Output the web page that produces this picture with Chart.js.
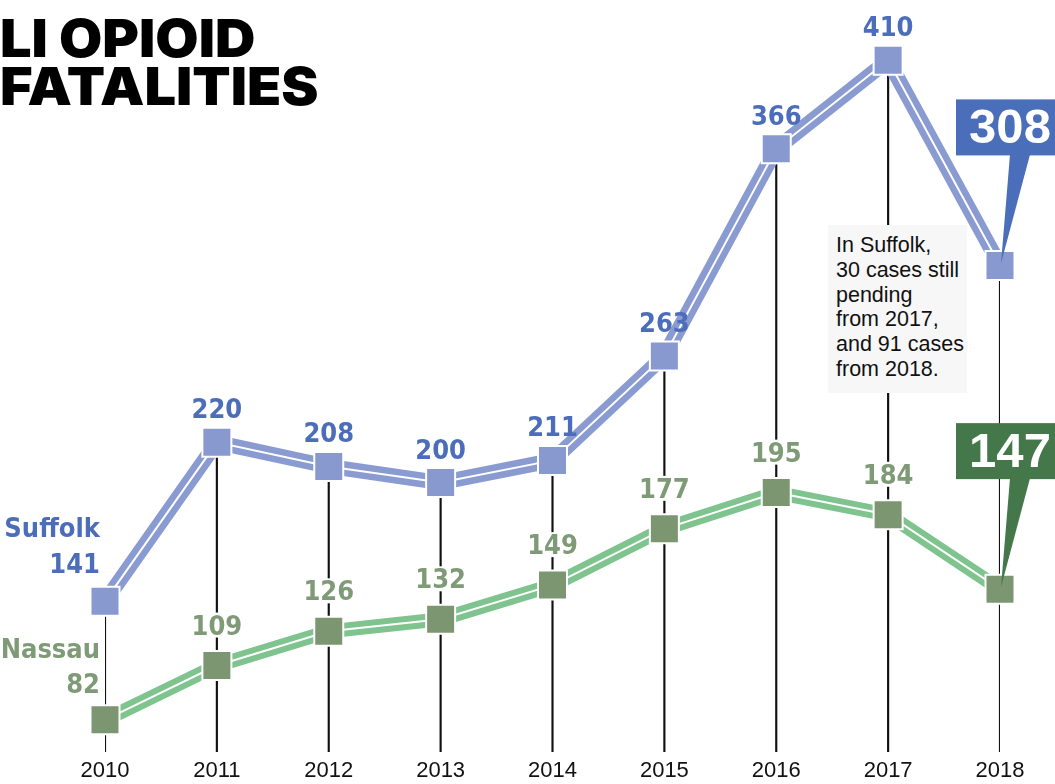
<!DOCTYPE html>
<html>
<head>
<meta charset="utf-8">
<script src="https://cdn.jsdelivr.net/npm/chart.js@4.4.1/dist/chart.umd.min.js"></script>
<style>
  html, body { margin: 0; padding: 0; background: #fff; }
  #wrap { position: relative; width: 1055px; height: 784px; overflow: hidden; }
  #chart { position: absolute; left: 0; top: 0; }
  .title {
    position: absolute; left: 0; top: 15px; margin: 0;
    font-family: Inter, 'Liberation Sans', sans-serif; font-weight: 900;
    font-size: 52px; line-height: 48px; letter-spacing: 0; color: #000;
    transform: scaleX(1.075); transform-origin: 0 0;
  }
  .note {
    position: absolute; left: 828px; top: 225px; width: 131px; height: 160px;
    padding: 8px 0 0 8px; background: #f7f7f7;
    font-family: 'Liberation Sans', sans-serif; font-size: 21.5px; line-height: 24.8px; color: #111;
  }
</style>
</head>
<body>
<div id="wrap">
  <canvas id="chart" width="1055" height="784"></canvas>
  <h1 class="title">LI OPIOID<br>FATALITIES</h1>
  <div class="note">In Suffolk,<br>30 cases still<br>pending<br>from 2017,<br>and 91 cases<br>from 2018.</div>
</div>
<script>
const years = ['2010', '2011', '2012', '2013', '2014', '2015', '2016', '2017', '2018'];
const suffolk = [141, 220, 208, 200, 211, 263, 366, 410, 308];
const nassau = [82, 109, 126, 132, 149, 177, 195, 184, 147];

const blueLine = '#8a9bd2';
const blueMark = '#8899cf';
const blueText = '#4c6db9';
const blueBox = '#4a6eb9';
const greenLine = '#7fc48e';
const greenMark = '#7d9672';
const greenText = '#7e9a76';
const greenBox = '#44784a';

const boldFont = "bold 27px 'DejaVu Sans Condensed', 'DejaVu Sans', sans-serif";

function drawCallout(ctx, px, py, text, color) {
    ctx.fillStyle = color;
    ctx.fillRect(px - 44, py - 166, 112, 56);
    ctx.beginPath();
    ctx.moveTo(px + 10, py - 111);
    ctx.lineTo(px + 30, py - 111);
    ctx.lineTo(px + 1, py - 2);
    ctx.closePath();
    ctx.fill();
    ctx.fillStyle = '#fff';
    ctx.font = "bold 49px 'Liberation Sans', sans-serif";
    ctx.textAlign = 'center';
    ctx.textBaseline = 'alphabetic';
    ctx.fillText(text, px + 10, py - 122);
}

const labelPlugin = {
    id: 'valueLabels',
    afterDatasetsDraw(chart) {
        const ctx = chart.ctx;
        const xs = chart.scales.x;
        const ys = chart.scales.y;
        const last = years.length - 1;
        ctx.save();
        ctx.font = boldFont;
        ctx.textBaseline = 'alphabetic';

        for (let i = 1; i < last; i++) {
            const px = xs.getPixelForValue(i);
            // suffolk
            let py = ys.getPixelForValue(suffolk[i]);
            ctx.fillStyle = blueText;
            ctx.textAlign = 'center';
            ctx.fillText(String(suffolk[i]), px, py - 24);
            // nassau (white gap on the vertical rule)
            py = ys.getPixelForValue(nassau[i]);
            ctx.fillStyle = '#fff';
            ctx.fillRect(px - 4, py - 53, 8, 25);
            ctx.fillStyle = greenText;
            ctx.fillText(String(nassau[i]), px, py - 31);
        }

        // first year: series names
        const x0 = xs.getPixelForValue(0) - 5;
        ctx.textAlign = 'right';
        let py = ys.getPixelForValue(suffolk[0]);
        ctx.fillStyle = blueText;
        ctx.fillText('Suffolk', x0, py - 64);
        ctx.fillText(String(suffolk[0]), x0, py - 28.5);
        py = ys.getPixelForValue(nassau[0]);
        ctx.fillStyle = greenText;
        ctx.fillText('Nassau', x0, py - 61.5);
        ctx.fillText(String(nassau[0]), x0, py - 26.5);

        // last year: callouts
        const xl = xs.getPixelForValue(last);
        drawCallout(ctx, xl, ys.getPixelForValue(suffolk[last]), String(suffolk[last]), blueBox);
        drawCallout(ctx, xl, ys.getPixelForValue(nassau[last]), String(nassau[last]), greenBox);
        ctx.restore();
    }
};

function markers(data, color) {
    return {
        type: 'line', data: data, showLine: false, order: 0, clip: false,
        pointStyle: 'rect', pointRadius: 20.5, pointHoverRadius: 20.5,
        pointBackgroundColor: color, pointBorderColor: '#fff', pointBorderWidth: 2
    };
}

function band(data, color, width, order) {
    return {
        type: 'line', data: data, order: order, clip: false,
        borderColor: color, borderWidth: width, pointRadius: 0, tension: 0, fill: false
    };
}

new Chart(document.getElementById('chart'), {
    type: 'line',
    data: {
        labels: years,
        datasets: [
            markers(suffolk, blueMark),
            markers(nassau, greenMark),
            band(suffolk, '#fff', 2, 1),
            band(nassau, '#fff', 2, 1),
            band(suffolk, blueLine, 15, 2),
            band(nassau, greenLine, 14, 2),
            {
                type: 'bar', data: suffolk, order: 3,
                backgroundColor: '#111', barThickness: 1.5
            }
        ]
    },
    plugins: [labelPlugin],
    options: {
        responsive: false,
        animation: false,
        devicePixelRatio: 1,
        layout: { autoPadding: false, padding: { left: 105, right: 55, top: 0, bottom: 0 } },
        plugins: { legend: { display: false }, tooltip: { enabled: false } },
        events: [],
        scales: {
            x: {
                type: 'category',
                offset: false,
                grid: { display: false, drawTicks: false, offset: false },
                border: { display: false },
                ticks: {
                    color: '#111', padding: 6, maxRotation: 0, autoSkip: false,
                    font: { family: "'Liberation Sans', sans-serif", size: 22 }
                },
                afterFit(scale) { scale.height = 32; }
            },
            y: { display: false, min: 66, max: 440 }
        }
    }
});
</script>
</body>
</html>
